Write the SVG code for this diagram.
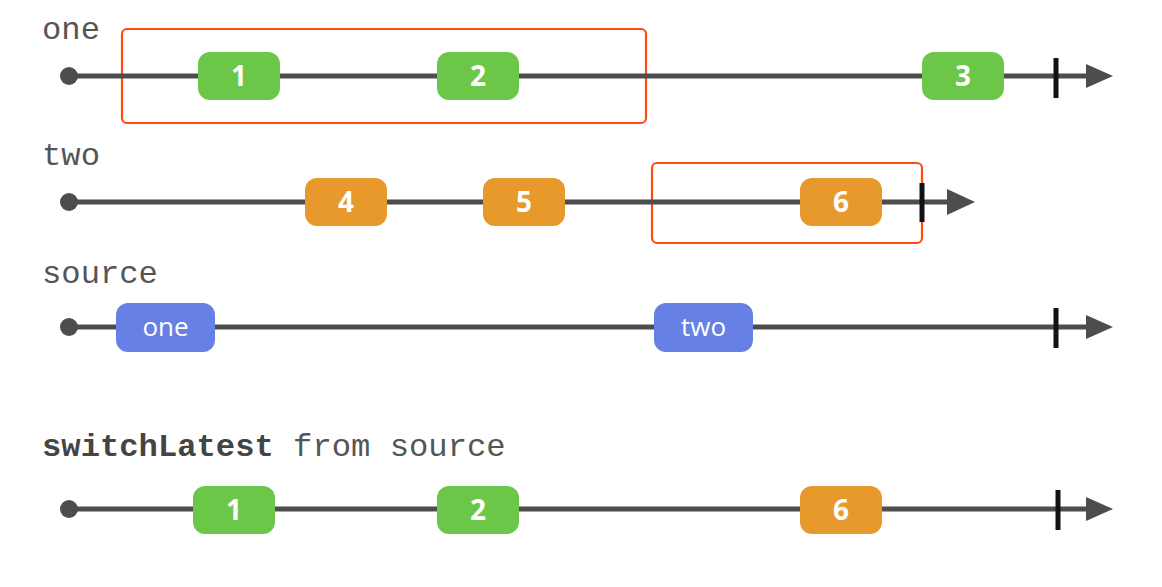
<svg xmlns="http://www.w3.org/2000/svg" width="1162" height="587" viewBox="0 0 1162 587">
<style>
.lbl{font-family:"Liberation Mono","DejaVu Sans Mono",monospace;font-size:32.2px;fill:#555}
.line{stroke:#4d4d4d;stroke-width:5;fill:none}
.dot{fill:#4d4d4d}
.arr{fill:#4d4d4d}
.end{stroke:#111;stroke-width:5}
.g{fill:#6cc749}
.o{fill:#e8992b}
.b{fill:#6680e6}
.t{font-family:"Open Sans","Liberation Sans",sans-serif;font-size:28px;font-weight:bold;fill:#fff;text-anchor:middle}
.tb{font-family:"Open Sans","Liberation Sans",sans-serif;font-size:26px;fill:#fff;text-anchor:middle}
.sel{fill:none;stroke:#ff4a12;stroke-width:2.2}
</style>
<g id="sel1"><rect class="sel" x="122" y="29" width="524" height="94" rx="5"/></g>
<g id="sel2"><rect class="sel" x="652" y="163" width="270" height="80" rx="5"/></g>
<g id="labels">
<text class="lbl" x="42" y="39">one</text>
<text class="lbl" x="42" y="165">two</text>
<text class="lbl" x="42" y="283">source</text>
<text class="lbl" x="42" y="456"><tspan font-weight="bold" fill="#444">switchLatest</tspan> from source</text>
</g>
<g id="connectors">
<line class="line" x1="69" y1="76" x2="1090" y2="76"/>
<circle class="dot" cx="69" cy="76" r="9"/>
<polygon class="arr" points="1086,64 1113,76 1086,88"/>
<line class="end" x1="1056" y1="58" x2="1056" y2="98"/>
<line class="line" x1="69" y1="202" x2="950" y2="202"/>
<circle class="dot" cx="69" cy="202" r="9"/>
<polygon class="arr" points="947,189 975,202 947,215"/>
<line class="end" x1="922" y1="183" x2="922" y2="222"/>
<line class="line" x1="69" y1="327" x2="1090" y2="327"/>
<circle class="dot" cx="69" cy="327" r="9"/>
<polygon class="arr" points="1086,315 1113,327 1086,339"/>
<line class="end" x1="1056" y1="308" x2="1056" y2="348"/>
<line class="line" x1="69" y1="509" x2="1090" y2="509"/>
<circle class="dot" cx="69" cy="509" r="9"/>
<polygon class="arr" points="1086,497 1113,509 1086,521"/>
<line class="end" x1="1058" y1="490" x2="1058" y2="530"/>
</g>
<g id="n1"><rect class="g" x="198" y="52" width="82" height="48" rx="12"/><text class="t" x="239" y="86">1</text></g>
<g id="n2"><rect class="g" x="437" y="52" width="82" height="48" rx="12"/><text class="t" x="478" y="86">2</text></g>
<g id="n3"><rect class="g" x="922" y="52" width="82" height="48" rx="12"/><text class="t" x="963" y="86">3</text></g>
<g id="n4"><rect class="o" x="305" y="178" width="82" height="48" rx="12"/><text class="t" x="346" y="212">4</text></g>
<g id="n5"><rect class="o" x="483" y="178" width="82" height="48" rx="12"/><text class="t" x="524" y="212">5</text></g>
<g id="n6"><rect class="o" x="800" y="178" width="82" height="48" rx="12"/><text class="t" x="841" y="212">6</text></g>
<g id="s1"><rect class="b" x="116" y="303" width="99" height="49" rx="12"/><text class="tb" x="165.5" y="336">one</text></g>
<g id="s2"><rect class="b" x="654" y="303" width="99" height="49" rx="12"/><text class="tb" x="703.5" y="336">two</text></g>
<g id="r1"><rect class="g" x="193" y="486" width="82" height="48" rx="12"/><text class="t" x="234" y="520">1</text></g>
<g id="r2"><rect class="g" x="437" y="486" width="82" height="48" rx="12"/><text class="t" x="478" y="520">2</text></g>
<g id="r6"><rect class="o" x="800" y="486" width="82" height="48" rx="12"/><text class="t" x="841" y="520">6</text></g>
</svg>
